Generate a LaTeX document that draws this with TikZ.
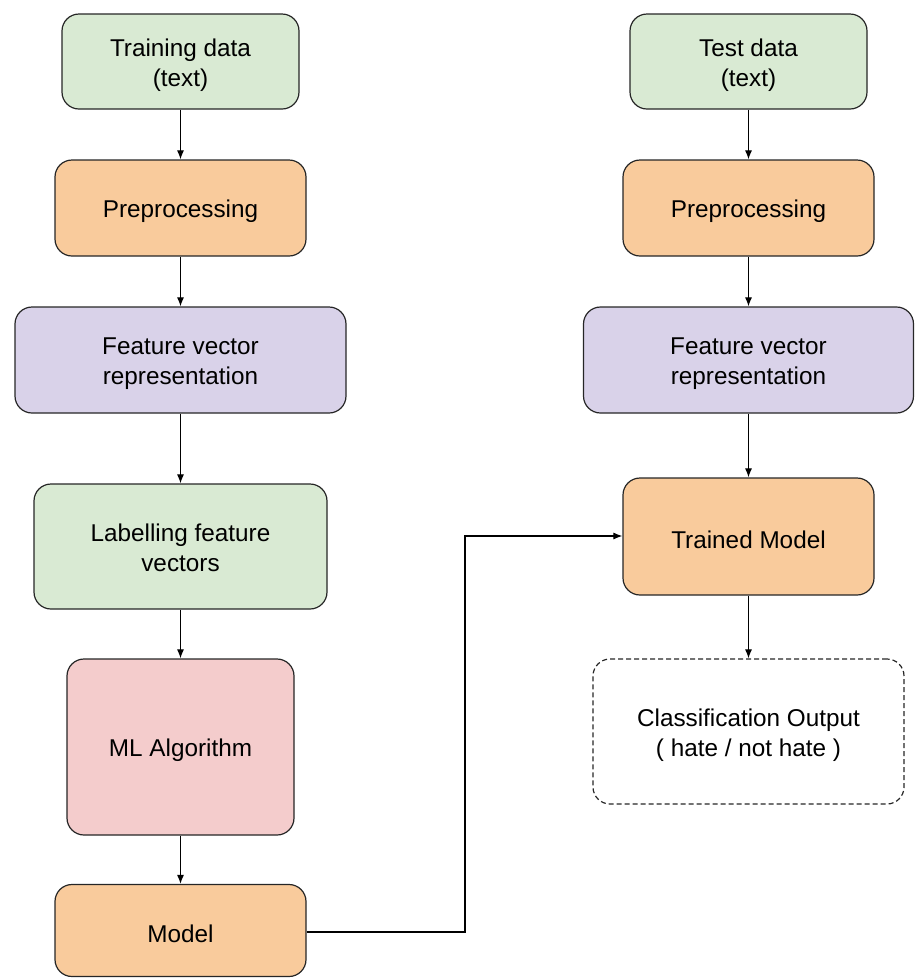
\documentclass[tikz,border=0pt]{standalone}
\usepackage{fontspec}
\setmainfont{Liberation Sans}
\usetikzlibrary{arrows.meta}
\definecolor{cgreen}{HTML}{D9EAD3}
\definecolor{corange}{HTML}{F9CB9C}
\definecolor{cpurple}{HTML}{D9D2E9}
\definecolor{cpink}{HTML}{F4CCCC}
\newcommand\twoln[2]{\raisebox{-3.5pt}[\height][\depth]{\begin{tabular}{@{}c@{}}#1\\#2\end{tabular}}}
\begin{document}
\begin{tikzpicture}[x=1pt,y=-1pt,
  box/.style={draw=black!85,line width=1.2pt,rounded corners=17pt,font=\fontsize{24.3}{30}\selectfont,inner sep=0pt,execute at begin node={\rule{0pt}{24pt}}},
  conn/.style={line width=1.1pt,-{Latex[length=9pt,width=7pt]}}]
\useasboundingbox (0,0) rectangle (914,978);
% left column
\node[box,fill=cgreen,minimum width=237pt,minimum height=95pt] (td) at (180.5,61.5) {\twoln{Training data}{(text)}};
\node[box,fill=corange,minimum width=251pt,minimum height=96pt] (pp1) at (180.5,208) {Preprocessing};
\node[box,fill=cpurple,minimum width=331pt,minimum height=106pt] (fv1) at (180.5,360) {\twoln{Feature vector}{representation}};
\node[box,fill=cgreen,minimum width=293pt,minimum height=125pt] (lab) at (180.5,546.5) {\twoln{Labelling feature}{vectors}};
\node[box,fill=cpink,minimum width=227pt,minimum height=176pt] (ml) at (180.5,747) {ML Algorithm};
\node[box,fill=corange,minimum width=251pt,minimum height=92pt] (mod) at (180.5,930.5) {Model};
% right column
\node[box,fill=cgreen,minimum width=237pt,minimum height=95pt] (ted) at (748.5,61.5) {\twoln{Test data}{(text)}};
\node[box,fill=corange,minimum width=251pt,minimum height=96pt] (pp2) at (748.5,208) {Preprocessing};
\node[box,fill=cpurple,minimum width=330pt,minimum height=106pt] (fv2) at (748.5,360) {\twoln{Feature vector}{representation}};
\node[box,fill=corange,minimum width=251pt,minimum height=117pt] (tm) at (748.5,536.5) {Trained Model};
\node[box,dashed,dash pattern=on 5pt off 3pt,minimum width=311pt,minimum height=145pt] (co) at (748.5,731.5) {\twoln{Classification Output}{( hate / not hate )}};
% connectors
\draw[conn] (td) -- (pp1);
\draw[conn] (pp1) -- (fv1);
\draw[conn] (fv1) -- (lab);
\draw[conn] (lab) -- (ml);
\draw[conn] (ml) -- (mod);
\draw[conn] (ted) -- (pp2);
\draw[conn] (pp2) -- (fv2);
\draw[conn] (fv2) -- (tm);
\draw[conn] (tm) -- (co);
\coordinate (b1) at (465,932);
\coordinate (b2) at (465,536);
\draw[conn] (mod.east |- b1) -- (b1) -- (b2) -- (tm.west |- b2);
\end{tikzpicture}
\end{document}
